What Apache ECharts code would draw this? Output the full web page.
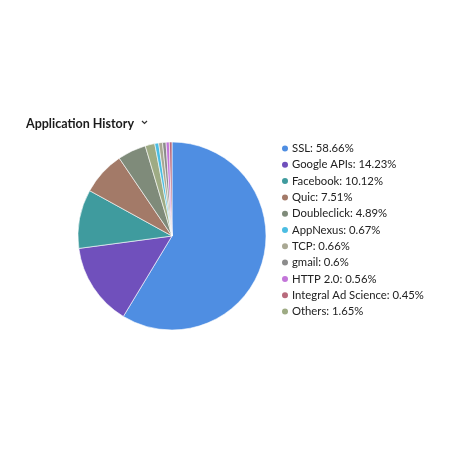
<!DOCTYPE html>
<html>
<head>
<meta charset="utf-8">
<script src="https://cdn.jsdelivr.net/npm/echarts@6/dist/echarts.min.js"></script>
<style>
  html, body { margin: 0; padding: 0; background: #fff; }
  #chart { width: 450px; height: 450px; }
</style>
</head>
<body>
<div id="chart"></div>
<script>
// slices in drawing order (clockwise from top)
var apps = ['SSL', 'Google APIs', 'Facebook', 'Quic', 'Doubleclick', 'Others', 'AppNexus', 'TCP', 'gmail', 'HTTP 2.0', 'Integral Ad Science']
var shares = [58.66, 14.23, 10.12, 7.51, 4.89, 1.65, 0.67, 0.66, 0.6, 0.56, 0.45]
var colors = ['#4f8ee2', '#7050bc', '#3f9b9e', '#a37a68', '#7f8b7a', '#9eab84', '#4bbde2', '#a9a893', '#8c8c8c', '#c376d9', '#b86a7c']
// legend order
var legendOrder = ['SSL', 'Google APIs', 'Facebook', 'Quic', 'Doubleclick', 'AppNexus', 'TCP', 'gmail', 'HTTP 2.0', 'Integral Ad Science', 'Others']

var chart = echarts.init(document.getElementById('chart'))

var pieData = apps.map(function (name, i) {
  return { name: name, value: shares[i], itemStyle: { color: colors[i] } }
})

chart.setOption({
  animation: false,
  title: {
    text: 'Application History',
    left: 21,
    top: 112,
    textStyle: { fontFamily: 'Lato', fontWeight: 'bold', fontSize: 12.5, color: '#1a1a1a' }
  },
  // dropdown chevron next to the title
  graphic: [{
    type: 'polyline',
    shape: { points: [[142, 121], [144.5, 123.5], [147, 121]] },
    style: { stroke: '#333', lineWidth: 1.2, fill: null }
  }],
  legend: {
    orient: 'vertical',
    left: 275,
    top: 138,
    data: legendOrder,
    icon: 'circle',
    itemWidth: 8,
    itemHeight: 8,
    itemGap: 5.3,
    textStyle: { fontFamily: 'Lato', fontSize: 11.3, color: '#222', lineHeight: 11, padding: [0, 0, 0, -2] },
    formatter: function (name) {
      return name + ': ' + shares[apps.indexOf(name)] + '%'
    }
  },
  series: [{
    type: 'pie',
    center: [172, 236],
    radius: 94,
    startAngle: 90,
    label: { show: false },
    labelLine: { show: false },
    itemStyle: { borderColor: '#fff', borderWidth: 0.6 },
    data: pieData
  }]
})
</script>
</body>
</html>
